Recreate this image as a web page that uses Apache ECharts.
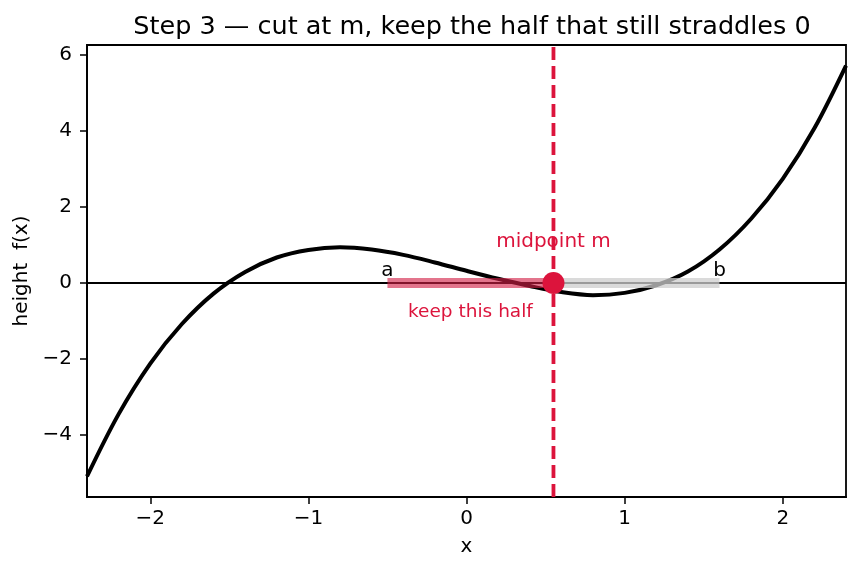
<!DOCTYPE html>
<html>
<head>
<meta charset="utf-8">
<script src="https://cdn.jsdelivr.net/npm/echarts@6.0.0/dist/echarts.min.js"></script>
<style>
  html, body { margin: 0; padding: 0; background: #fff; }
  #main { width: 860px; height: 573px; }
</style>
</head>
<body>
<div id="main"></div>
<script>
// curve, step 0.2
const xs = [-2.4, -2.2, -2.0, -1.8, -1.6, -1.4, -1.2, -1.0, -0.8, -0.6, -0.4, -0.2, 0,
  0.2, 0.4, 0.6, 0.8, 1.0, 1.2, 1.4, 1.6, 1.8, 2.0, 2.2, 2.4];
const fx = [-5.09, -3.45, -2.12, -1.08, -0.28, 0.29, 0.67, 0.87, 0.94, 0.88, 0.74, 0.54, 0.32,
  0.11, -0.08, -0.24, -0.32, -0.26, -0.06, 0.30, 0.88, 1.69, 2.74, 4.07, 5.72];

// bracket
const a = -0.5;
const b = 1.6;
const m = 0.55;

const xTicks = [-2, -1, 0, 1, 2];
const yTicks = [-4, -2, 0, 2, 4, 6];

// text anchors (data coords)
const endLabels = [[a, 0.32, 'a'], [b, 0.32, 'b']];
const midLabel = [m, 1.08, 'midpoint m'];
const keepLabel = [(a + m) / 2, -0.76, 'keep this half'];

const CRIMSON = '#dc143c';
const FONT = 'DejaVu Sans';

const chart = echarts.init(document.getElementById('main'), null, { renderer: 'canvas' });

const fmt = v => String(v).replace('-', '\u2212');

let option = {
  animation: false,
  backgroundColor: '#fff',
  textStyle: { fontFamily: FONT },
  title: {
    text: 'Step 3 \u2014 cut at m, keep the half that still straddles 0',
    left: 467,
    textAlign: 'center',
    top: 9,
    textStyle: { fontFamily: FONT, fontSize: 25.5, fontWeight: 'normal', color: '#000' }
  },
  grid: {
    left: 87, right: 14, top: 45, bottom: 76,
    show: true, borderColor: '#000', borderWidth: 1.8, backgroundColor: 'transparent'
  },
  xAxis: {
    type: 'value',
    min: -2.4, max: 2.4,
    name: 'x',
    nameLocation: 'middle',
    nameGap: 40,
    nameTextStyle: { fontFamily: FONT, fontSize: 20, color: '#000' },
    axisLine: { show: true, onZero: false, lineStyle: { color: '#000', width: 1.8 } },
    splitLine: { show: false },
    axisTick: { show: true, customValues: xTicks, length: 7, lineStyle: { color: '#000', width: 1.5 } },
    axisLabel: { customValues: xTicks, formatter: fmt, margin: 12, fontFamily: FONT, fontSize: 20, color: '#000' }
  },
  yAxis: {
    type: 'value',
    min: -5.63, max: 6.26,
    name: 'height  f(x)',
    nameLocation: 'middle',
    nameGap: 53,
    nameTextStyle: { fontFamily: FONT, fontSize: 20, color: '#000' },
    axisLine: { show: true, onZero: false, lineStyle: { color: '#000', width: 1.8 } },
    splitLine: { show: false },
    axisTick: { show: true, customValues: yTicks, length: 7, lineStyle: { color: '#000', width: 1.5 } },
    axisLabel: { customValues: yTicks, formatter: fmt, margin: 15, fontFamily: FONT, fontSize: 20, color: '#000' }
  },
  series: [
    {
      name: 'f(x)',
      type: 'line',
      data: xs.map((x, i) => [x, fx[i]]),
      smooth: 0.35,
      showSymbol: false,
      lineStyle: { color: '#000', width: 4 },
      z: 2
    },
    {
      name: 'zero',
      type: 'line',
      data: [[-2.4, 0], [2.4, 0]],
      showSymbol: false,
      lineStyle: { color: '#000', width: 2 },
      z: 3
    },
    {
      name: 'discard',
      type: 'line',
      data: [[m, 0], [b, 0]],
      showSymbol: false,
      lineStyle: { color: 'rgba(205,205,205,0.75)', width: 10, cap: 'butt' },
      z: 4
    },
    {
      name: 'keep',
      type: 'line',
      data: [[a, 0], [m, 0]],
      showSymbol: false,
      lineStyle: { color: 'rgba(210,30,70,0.62)', width: 10, cap: 'butt' },
      z: 4
    },
    {
      name: 'cut',
      type: 'line',
      data: [[m, -5.63], [m, 6.26]],
      showSymbol: false,
      lineStyle: { color: CRIMSON, width: 3.8, type: [13, 6] },
      z: 5
    },
    {
      name: 'midpoint',
      type: 'scatter',
      data: [[m, 0]],
      symbolSize: 22,
      itemStyle: { color: CRIMSON, opacity: 1 },
      z: 6
    },
    {
      name: 'labels',
      type: 'scatter',
      symbolSize: 0,
      silent: true,
      z: 7,
      itemStyle: { opacity: 1 },
      data: [
        ...endLabels.map(d => ({ value: [d[0], d[1]], label: { formatter: d[2], color: '#000', fontSize: 20 } })),
        { value: [midLabel[0], midLabel[1]], label: { formatter: midLabel[2], color: CRIMSON, fontSize: 20 } },
        { value: [keepLabel[0], keepLabel[1]], label: { formatter: keepLabel[2], color: CRIMSON, fontSize: 18.5 } }
      ],
      label: { show: true, position: 'inside', fontFamily: FONT }
    }
  ]
};

chart.setOption(option);
</script>
</body>
</html>
